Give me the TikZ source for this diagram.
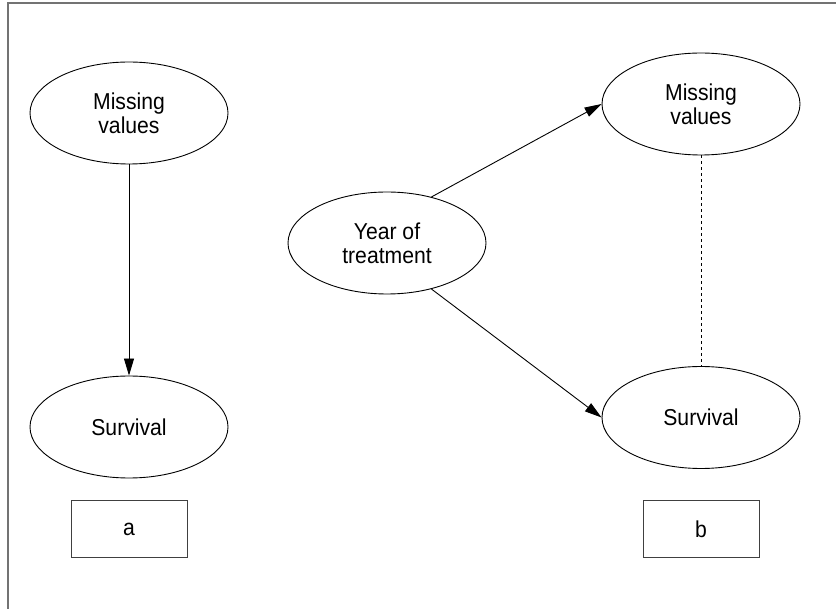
\documentclass[tikz,border=0pt]{standalone}
\usepackage{fontspec}
\setmainfont[FakeStretch=0.92]{Liberation Sans}
\usetikzlibrary{shapes.geometric,arrows.meta}
\tikzset{
  var/.style={ellipse, draw=black, line width=0.9pt, minimum width=198pt,
    minimum height=102pt, inner sep=0pt, align=center,
    font=\fontsize{23}{24}\selectfont},
  tag/.style={rectangle, draw=black!75, line width=1pt, minimum width=116pt,
    minimum height=57pt, inner sep=0pt, font=\fontsize{23}{24}\selectfont},
  link/.style={draw=black, line width=0.9pt,
    -{Triangle[length=17pt,width=10pt]}},
  assoc/.style={draw=black, line width=0.8pt, dash pattern=on 3pt off 3pt},
  frameline/.style={draw=black!55, line width=1.2pt}
}
\begin{document}
\begin{tikzpicture}[x=1pt,y=-1pt]
  \useasboundingbox (0,0) rectangle (836,609);
  % outer frame (top and left edges)
  \coordinate (fTL) at (8,3);
  \coordinate (fTR) at (836,3);
  \coordinate (fBL) at (8,609);
  \draw[frameline] (fTR) -- (fTL) -- (fBL);

  % panel a
  \node[var] (mvA) at (129,113) {Missing\\values};
  \node[var] (svA) at (129,427) {Survival};
  \node[tag] (labA) at (129,529.5) {a};
  \draw[link] (mvA.south) -- (svA.north);

  % panel b
  \node[var] (year) at (387,243) {Year of\\treatment};
  \node[var] (mvB) at (701,104) {Missing\\values};
  \node[var] (svB) at (701,417.5) {Survival};
  \node[tag] (labB) at (701,529.5) {b};
  \draw[link] (year.46) -- (mvB.west);
  \draw[link] (year.-46) -- (svB.west);
  \draw[assoc] (mvB.south) -- (svB.north);
\end{tikzpicture}
\end{document}
